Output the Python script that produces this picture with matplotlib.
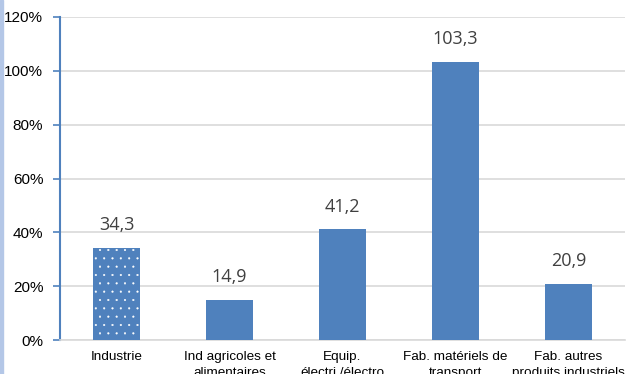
import matplotlib
matplotlib.use("Agg")
import matplotlib.pyplot as plt
from matplotlib.patches import Rectangle
from matplotlib.ticker import FuncFormatter

categories = ["Industrie", "Ind agricoles et\nalimentaires", "Equip.\nélectri./électro",
              "Fab. matériels de\ntransport", "Fab. autres\nproduits industriels"]
values = [34.3, 14.9, 41.2, 103.3, 20.9]
labels = ["34,3", "14,9", "41,2", "103,3", "20,9"]
yticks = [0, 20, 40, 60, 80, 100, 120]

blue = "#4f81bd"
plt.rcParams['hatch.linewidth'] = 0.3
fig = plt.figure(figsize=(6.29, 3.74), dpi=100)
ax = fig.add_axes([60/629, 1-340/374, 565/629, 323/374])

x = list(range(len(categories)))
bars = ax.bar(x, values, width=0.41, color=blue, zorder=3, linewidth=0)
bars[0].set_hatch('..')
bars[0].set_edgecolor('white')

for xi, v, lab in zip(x, values, labels):
    ax.text(xi, v + 5.0, lab, ha='center', va='bottom', fontsize=13,
            color='#404040', family='Open Sans')

ax.set_ylim(0, 120)
ax.set_xlim(-0.5, len(categories) - 0.5)
ax.set_yticks(yticks)
ax.yaxis.set_major_formatter(FuncFormatter(lambda v, p: f"{int(v)}%"))
ax.grid(axis='y', color='#d9d9d9', linewidth=1.2, zorder=0)
ax.set_xticks(x)
ax.set_xticklabels(categories, fontsize=9.7, family='Liberation Sans', linespacing=1.4)
for t in ax.get_yticklabels():
    t.set_family('Liberation Sans')
    t.set_fontsize(11)
ax.tick_params(axis='x', length=0, pad=8)
ax.tick_params(axis='y', direction='out', length=5, color=blue, width=1.2, pad=7)
for s in ['top', 'right']:
    ax.spines[s].set_visible(False)
ax.spines['left'].set_color(blue)
ax.spines['left'].set_linewidth(1.5)
ax.spines['bottom'].set_color('#d9d9d9')
ax.spines['bottom'].set_linewidth(1.2)

fig.patches.append(Rectangle((0, 0), 3/629, 1, transform=fig.transFigure,
                             color='#b4c7e7', zorder=0))
fig.savefig("out.png", dpi=100)
